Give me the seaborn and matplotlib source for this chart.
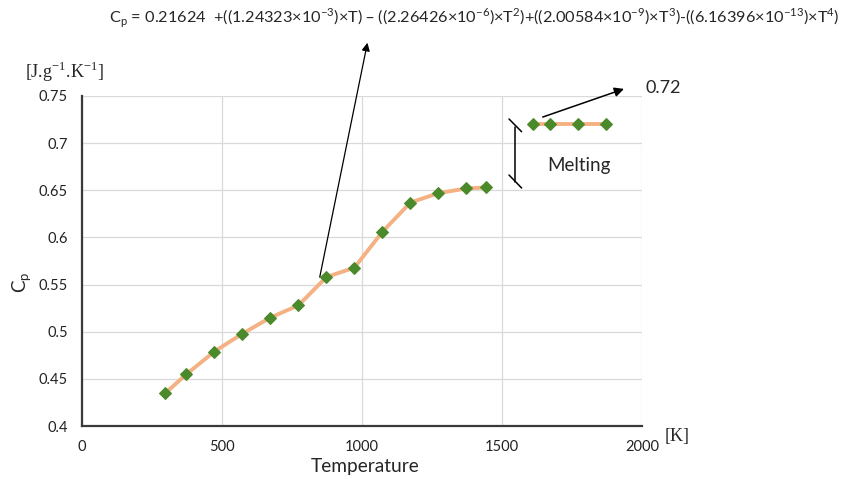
import matplotlib
matplotlib.use('Agg')
import matplotlib.pyplot as plt
import seaborn as sns
import pandas as pd

sns.set_style("whitegrid")
plt.rcParams['font.family'] = ['Lato', 'DejaVu Sans']

# data
temp_solid = [298, 373, 473, 573, 673, 773, 873, 973, 1073, 1173, 1273, 1373, 1443]
cp_solid = [0.435, 0.455, 0.479, 0.498, 0.515, 0.528, 0.558, 0.568, 0.606, 0.637, 0.647, 0.652, 0.653]
temp_liquid = [1610, 1673, 1773, 1873]
cp_liquid = [0.72, 0.72, 0.72, 0.72]
x_ticks = [0, 500, 1000, 1500, 2000]
y_ticks = [0.4, 0.45, 0.5, 0.55, 0.6, 0.65, 0.7, 0.75]

formula = (r'C$_{\mathregular{p}}$ = 0.21624  +((1.24323×10$^{\mathregular{-3}}$)×T) – '
           r'((2.26426×10$^{\mathregular{-6}}$)×T$^{\mathregular{2}}$)+'
           r'((2.00584×10$^{\mathregular{-9}}$)×T$^{\mathregular{3}}$)-'
           r'((6.16396×10$^{\mathregular{-13}}$)×T$^{\mathregular{4}}$)')

df_s = pd.DataFrame({'T': temp_solid, 'Cp': cp_solid})
df_l = pd.DataFrame({'T': temp_liquid, 'Cp': cp_liquid})

fig = plt.figure(figsize=(8.42, 4.79), dpi=100)
ax = fig.add_axes([0.0974, 0.1106, 0.6651, 0.689])

line_kw = dict(color='#F4B183', linewidth=2.8, marker='D', markersize=6.3,
               markerfacecolor='#4B8A2A', markeredgecolor='#4B8A2A')
sns.lineplot(data=df_s, x='T', y='Cp', ax=ax, **line_kw)
sns.lineplot(data=df_l, x='T', y='Cp', ax=ax, **line_kw)

ax.set_xlim(0, 2000)
ax.set_ylim(0.4, 0.75)
ax.set_xticks(x_ticks)
ax.set_yticks(y_ticks)
ax.set_xticklabels([str(v) for v in x_ticks])
ax.set_yticklabels([f'{v:g}' for v in y_ticks])
ax.grid(True, color='#D9D9D9', linewidth=0.9)
for s in ['top', 'right']:
    ax.spines[s].set_visible(False)
for s in ['left', 'bottom']:
    ax.spines[s].set_color('#3a3a3a')
    ax.spines[s].set_linewidth(1.6)
ax.tick_params(axis='x', length=3, width=1, color='#3a3a3a', pad=7, labelsize=10.5, labelcolor='#222222')
ax.tick_params(axis='y', length=0, pad=10, labelsize=10.5, labelcolor='#222222')

ax.set_xlabel('Temperature', fontsize=13.8)
ax.xaxis.label.set_va('center')
ax.xaxis.set_label_coords(0.505, -0.123)
ax.set_ylabel(r'C$_{\mathregular{p}}$', fontsize=13.5)
ax.yaxis.label.set_va('center')
ax.yaxis.set_label_coords(-0.107, 0.437)

# units
fig.text(0.076, 0.850, r'[J.g$^{\mathregular{-1}}$.K$^{\mathregular{-1}}$]',
         family='Liberation Serif', fontsize=13, ha='center', va='center')
fig.text(0.804, 0.088, '[K]', family='Liberation Serif', fontsize=13, ha='center', va='center')

# formula and arrow
fig.text(0.563, 0.962, formula, fontsize=11.7, ha='center', va='center')
ax.annotate('', xy=(368 / 842, 1 - 40 / 479), xycoords='figure fraction',
            xytext=(847, 0.555), textcoords='data',
            arrowprops=dict(arrowstyle='-|>', color='black', lw=0.9, mutation_scale=12))

# 0.72 arrow
ax.annotate('', xy=(1945, 0.7585), xytext=(1636, 0.7267),
            arrowprops=dict(arrowstyle='-|>', color='black', lw=1.1, mutation_scale=14),
            annotation_clip=False)
ax.text(2011, 0.7585, '0.72', fontsize=13, ha='left', va='center', clip_on=False)

# melting bracket
ax.plot([1546, 1546], [0.7175, 0.6591], color='black', lw=1.1)
ax.plot([1525, 1570], [0.7256, 0.7121], color='black', lw=1.1)
ax.plot([1525, 1570], [0.6662, 0.6524], color='black', lw=1.1)
ax.text(1775, 0.6758, 'Melting', fontsize=13.5, ha='center', va='center')

fig.savefig('out.png', dpi=100)
